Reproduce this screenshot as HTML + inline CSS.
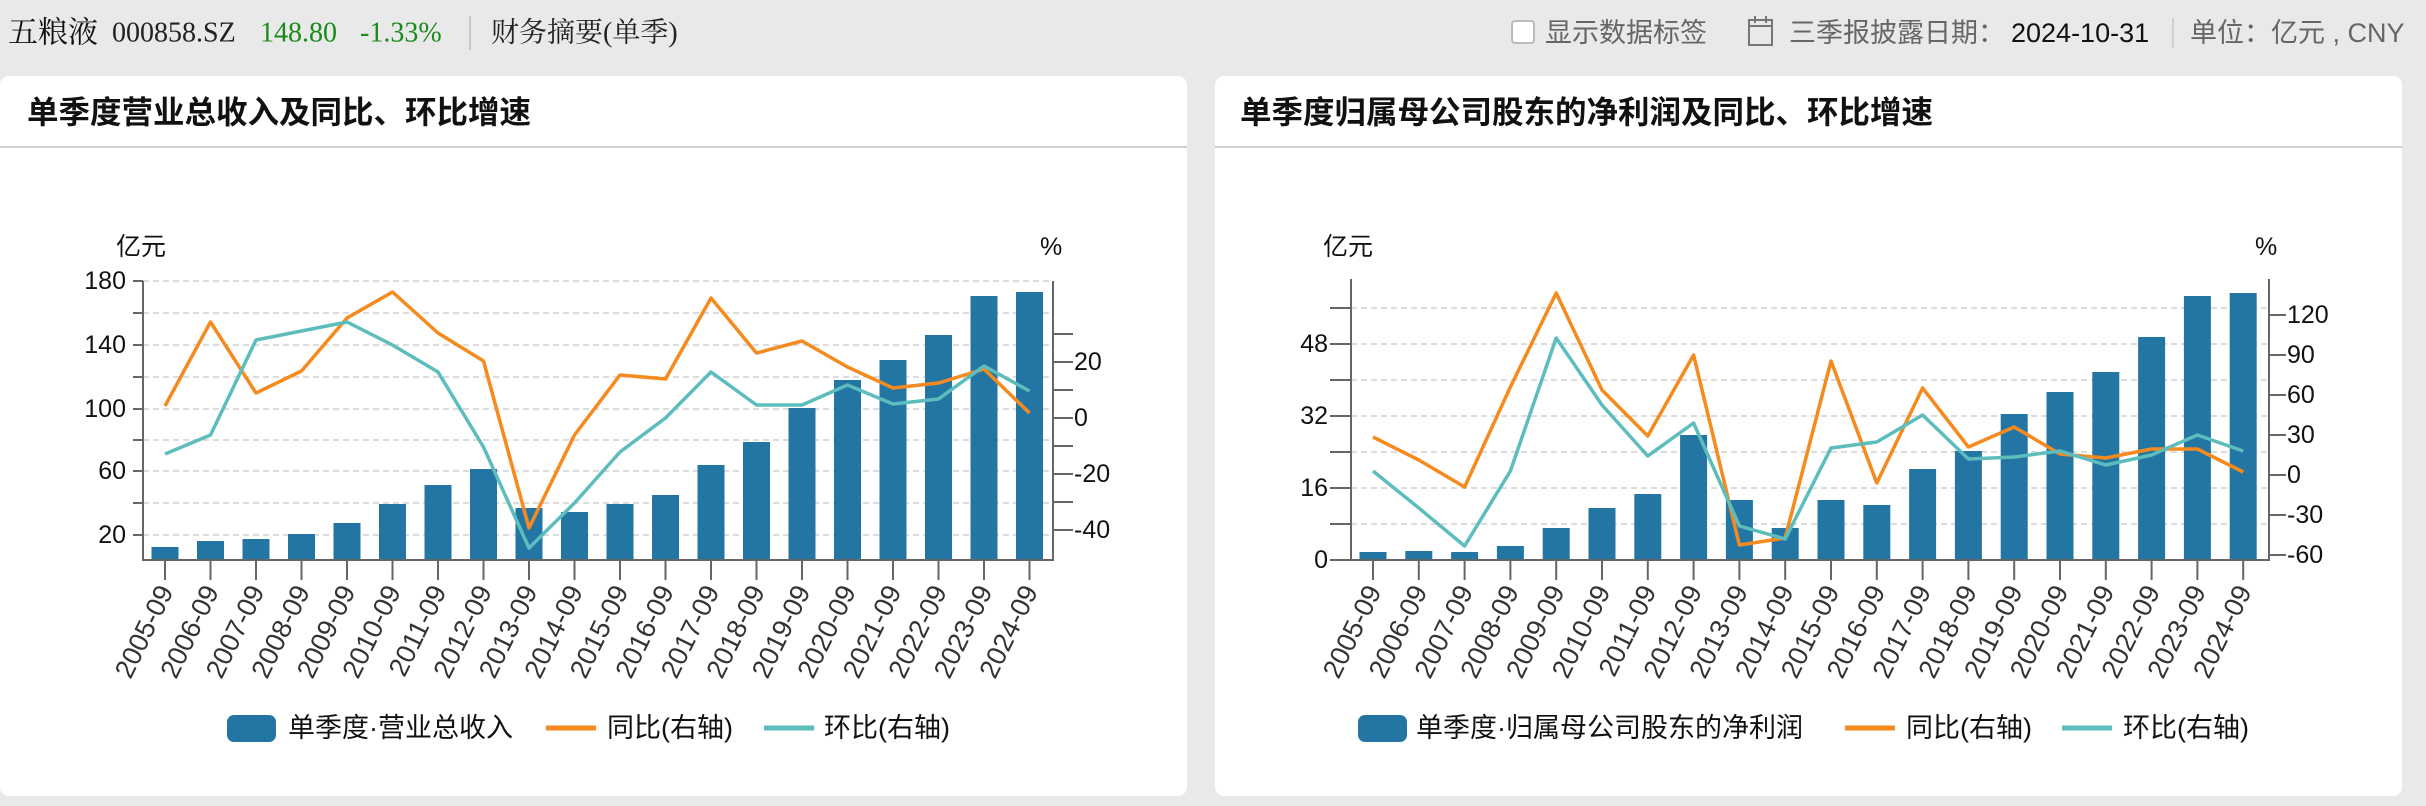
<!DOCTYPE html>
<html><head><meta charset="utf-8"><style>
html,body{margin:0;padding:0;background:#e9e9e9;}
svg{display:block;font-family:"Liberation Sans","Noto Sans CJK SC",sans-serif;}
</style></head><body>
<svg width="2426" height="806" viewBox="0 0 2426 806" xmlns="http://www.w3.org/2000/svg">
<rect width="2426" height="806" fill="#e9e9e9"/>
<g font-family="'Liberation Serif','Noto Serif CJK SC',serif" font-size="28" dominant-baseline="central">
<text x="8" y="33" fill="#111" font-size="30">五粮液</text>
<text x="112" y="33" fill="#222">000858.SZ</text>
<text x="260" y="33" fill="#1a8a1a">148.80</text>
<text x="360" y="33" fill="#1a8a1a">-1.33%</text>
<text x="491" y="33" fill="#222">财务摘要(单季)</text>
</g>
<line x1="470" y1="16" x2="470" y2="50" stroke="#c8c8c8" stroke-width="2"/>
<rect x="1512" y="21" width="22" height="22" rx="3" fill="#fff" stroke="#bbb" stroke-width="2"/>
<g font-size="27" dominant-baseline="central" fill="#666">
<text x="1545" y="33">显示数据标签</text>
<text x="1789" y="33">三季报披露日期：</text>
<text x="2011" y="33" fill="#111">2024-10-31</text>
<text x="2190" y="33">单位：亿元 , CNY</text>
</g>
<rect x="1749" y="20" width="23" height="25" fill="none" stroke="#777" stroke-width="2"/>
<line x1="1749" y1="26" x2="1772" y2="26" stroke="#777" stroke-width="2"/>
<line x1="1755" y1="16" x2="1755" y2="23" stroke="#777" stroke-width="2"/>
<line x1="1766" y1="16" x2="1766" y2="23" stroke="#777" stroke-width="2"/>
<line x1="2173" y1="18" x2="2173" y2="48" stroke="#d0d0d0" stroke-width="2"/>

<rect x="0" y="76" width="1187" height="720" rx="9" fill="#fff"/>
<rect x="1215" y="76" width="1187" height="720" rx="9" fill="#fff"/>
<line x1="0" y1="147" x2="1187" y2="147" stroke="#cfcfcf" stroke-width="2"/>
<line x1="1215" y1="147" x2="2402" y2="147" stroke="#cfcfcf" stroke-width="2"/>
<text x="27" y="112" font-size="31.5" font-weight="bold" fill="#111" dominant-baseline="central">单季度营业总收入及同比、环比增速</text>
<text x="1240" y="112" font-size="31.5" font-weight="bold" fill="#111" dominant-baseline="central">单季度归属母公司股东的净利润及同比、环比增速</text>

<!-- ===== Chart 1 ===== -->
<g stroke="#dcdcdc" stroke-width="2" stroke-dasharray="6,4">
<line x1="143" y1="281" x2="1053" y2="281"/><line x1="143" y1="313" x2="1053" y2="313"/>
<line x1="143" y1="345" x2="1053" y2="345"/><line x1="143" y1="377" x2="1053" y2="377"/>
<line x1="143" y1="409" x2="1053" y2="409"/><line x1="143" y1="440" x2="1053" y2="440"/>
<line x1="143" y1="471" x2="1053" y2="471"/><line x1="143" y1="503" x2="1053" y2="503"/>
<line x1="143" y1="535" x2="1053" y2="535"/>
</g>
<g fill="#2376a3">
<rect x="151.5" y="547" width="27" height="13"/><rect x="197" y="541" width="27" height="19"/>
<rect x="242.5" y="539" width="27" height="21"/><rect x="288" y="534" width="27" height="26"/>
<rect x="333.5" y="523" width="27" height="37"/><rect x="379" y="504" width="27" height="56"/>
<rect x="424.5" y="485" width="27" height="75"/><rect x="470" y="469" width="27" height="91"/>
<rect x="515.5" y="508" width="27" height="52"/><rect x="561" y="512" width="27" height="48"/>
<rect x="606.5" y="504" width="27" height="56"/><rect x="652" y="495" width="27" height="65"/>
<rect x="697.5" y="465" width="27" height="95"/><rect x="743" y="442" width="27" height="118"/>
<rect x="788.5" y="408" width="27" height="152"/><rect x="834" y="380" width="27" height="180"/>
<rect x="879.5" y="360" width="27" height="200"/><rect x="925" y="335" width="27" height="225"/>
<rect x="970.5" y="296" width="27" height="264"/><rect x="1016" y="292" width="27" height="268"/>
</g>
<polyline fill="none" stroke="#f58a1f" stroke-width="3.5" stroke-linejoin="round" points="165,406 210.5,322 256,393 301.5,371 347,318 392.5,292 438,333 483.5,361 529,528 574.5,435 620,375 665.5,379 711,298 756.5,353 802,341 847.5,367 893,388 938.5,383 984,369 1029.5,413"/>
<polyline fill="none" stroke="#5dbdbd" stroke-width="3.5" stroke-linejoin="round" points="165,454 210.5,435 256,340 301.5,331 347,322 392.5,345 438,372 483.5,447 529,548 574.5,503 620,452 665.5,418 711,372 756.5,405 802,405 847.5,385 893,404 938.5,399 984,366 1029.5,391"/>
<g stroke="#666" stroke-width="2" fill="none">
<line x1="143" y1="281" x2="143" y2="561"/><line x1="1053" y1="281" x2="1053" y2="561"/>
<line x1="142" y1="560" x2="1054" y2="560"/>
<path d="M133 281H143M133 313H143M133 345H143M133 377H143M133 409H143M133 440H143M133 471H143M133 503H143M133 535H143"/>
<path d="M1053 334H1073M1053 362H1073M1053 390H1073M1053 418H1073M1053 446H1073M1053 474H1073M1053 502H1073M1053 530H1073"/>
<path d="M165 560V580M210.5 560V580M256 560V580M301.5 560V580M347 560V580M392.5 560V580M438 560V580M483.5 560V580M529 560V580M574.5 560V580M620 560V580M665.5 560V580M711 560V580M756.5 560V580M802 560V580M847.5 560V580M893 560V580M938.5 560V580M984 560V580M1029.5 560V580"/>
</g>
<g font-size="25" fill="#111" dominant-baseline="central">
<text x="126" y="281" text-anchor="end">180</text><text x="126" y="345" text-anchor="end">140</text>
<text x="126" y="409" text-anchor="end">100</text><text x="126" y="471" text-anchor="end">60</text>
<text x="126" y="535" text-anchor="end">20</text>
<text x="1074" y="362">20</text><text x="1074" y="418">0</text>
<text x="1074" y="474">-20</text><text x="1074" y="530">-40</text>
<text x="116" y="247">亿元</text><text x="1040" y="247">%</text>
</g>
<g font-size="27" fill="#333" text-anchor="end">
<text transform="translate(174,591) rotate(-64)">2005-09</text><text transform="translate(219.5,591) rotate(-64)">2006-09</text>
<text transform="translate(265,591) rotate(-64)">2007-09</text><text transform="translate(310.5,591) rotate(-64)">2008-09</text>
<text transform="translate(356,591) rotate(-64)">2009-09</text><text transform="translate(401.5,591) rotate(-64)">2010-09</text>
<text transform="translate(447,591) rotate(-64)">2011-09</text><text transform="translate(492.5,591) rotate(-64)">2012-09</text>
<text transform="translate(538,591) rotate(-64)">2013-09</text><text transform="translate(583.5,591) rotate(-64)">2014-09</text>
<text transform="translate(629,591) rotate(-64)">2015-09</text><text transform="translate(674.5,591) rotate(-64)">2016-09</text>
<text transform="translate(720,591) rotate(-64)">2017-09</text><text transform="translate(765.5,591) rotate(-64)">2018-09</text>
<text transform="translate(811,591) rotate(-64)">2019-09</text><text transform="translate(856.5,591) rotate(-64)">2020-09</text>
<text transform="translate(902,591) rotate(-64)">2021-09</text><text transform="translate(947.5,591) rotate(-64)">2022-09</text>
<text transform="translate(993,591) rotate(-64)">2023-09</text><text transform="translate(1038.5,591) rotate(-64)">2024-09</text>
</g>
<rect x="227" y="715" width="49" height="27" rx="7" fill="#2376a3"/>
<line x1="546" y1="728" x2="596" y2="728" stroke="#f58a1f" stroke-width="5"/>
<line x1="764" y1="728" x2="814" y2="728" stroke="#5dbdbd" stroke-width="5"/>
<g font-size="27" fill="#111" dominant-baseline="central">
<text x="288" y="728">单季度·营业总收入</text><text x="607" y="728">同比(右轴)</text><text x="824" y="728">环比(右轴)</text>
</g>

<!-- ===== Chart 2 ===== -->
<g stroke="#dcdcdc" stroke-width="2" stroke-dasharray="6,4">
<line x1="1351" y1="308" x2="2269" y2="308"/><line x1="1351" y1="344" x2="2269" y2="344"/>
<line x1="1351" y1="380" x2="2269" y2="380"/><line x1="1351" y1="416" x2="2269" y2="416"/>
<line x1="1351" y1="452" x2="2269" y2="452"/><line x1="1351" y1="488" x2="2269" y2="488"/>
<line x1="1351" y1="524" x2="2269" y2="524"/>
</g>
<g fill="#2376a3">
<rect x="1359.5" y="552" width="27" height="8"/><rect x="1405.3" y="551" width="27" height="9"/>
<rect x="1451.1" y="552" width="27" height="8"/><rect x="1496.9" y="546" width="27" height="14"/>
<rect x="1542.7" y="528" width="27" height="32"/><rect x="1588.5" y="508" width="27" height="52"/>
<rect x="1634.3" y="494" width="27" height="66"/><rect x="1680.1" y="435" width="27" height="125"/>
<rect x="1725.9" y="500" width="27" height="60"/><rect x="1771.7" y="528" width="27" height="32"/>
<rect x="1817.5" y="500" width="27" height="60"/><rect x="1863.3" y="505" width="27" height="55"/>
<rect x="1909.1" y="469" width="27" height="91"/><rect x="1954.9" y="451" width="27" height="109"/>
<rect x="2000.7" y="414" width="27" height="146"/><rect x="2046.5" y="392" width="27" height="168"/>
<rect x="2092.3" y="372" width="27" height="188"/><rect x="2138.1" y="337" width="27" height="223"/>
<rect x="2183.9" y="296" width="27" height="264"/><rect x="2229.7" y="293" width="27" height="267"/>
</g>
<polyline fill="none" stroke="#f58a1f" stroke-width="3.5" stroke-linejoin="round" points="1373,437 1418.8,460 1464.6,487 1510.4,387 1556.2,293 1602,390 1647.8,436 1693.6,355 1739.4,545 1785.2,538 1831,361 1876.8,483 1922.6,388 1968.4,447 2014.2,427 2060,454 2105.8,458 2151.6,449 2197.4,449 2243.2,472"/>
<polyline fill="none" stroke="#5dbdbd" stroke-width="3.5" stroke-linejoin="round" points="1373,471 1418.8,508 1464.6,546 1510.4,471 1556.2,338 1602,405 1647.8,456 1693.6,423 1739.4,526 1785.2,539 1831,448 1876.8,442 1922.6,415 1968.4,459 2014.2,457 2060,451 2105.8,465 2151.6,455 2197.4,435 2243.2,451"/>
<g stroke="#666" stroke-width="2" fill="none">
<line x1="1351" y1="279" x2="1351" y2="561"/><line x1="2269" y1="279" x2="2269" y2="561"/>
<line x1="1350" y1="560" x2="2270" y2="560"/>
<path d="M1330 308H1351M1330 344H1351M1330 380H1351M1330 416H1351M1330 452H1351M1330 488H1351M1330 524H1351M1330 560H1351"/>
<path d="M2269 315H2286M2269 355H2286M2269 395H2286M2269 435H2286M2269 475H2286M2269 515H2286M2269 555H2286"/>
<path d="M1373 560V580M1418.8 560V580M1464.6 560V580M1510.4 560V580M1556.2 560V580M1602 560V580M1647.8 560V580M1693.6 560V580M1739.4 560V580M1785.2 560V580M1831 560V580M1876.8 560V580M1922.6 560V580M1968.4 560V580M2014.2 560V580M2060 560V580M2105.8 560V580M2151.6 560V580M2197.4 560V580M2243.2 560V580"/>
</g>
<g font-size="25" fill="#111" dominant-baseline="central">
<text x="1328" y="344" text-anchor="end">48</text><text x="1328" y="416" text-anchor="end">32</text>
<text x="1328" y="488" text-anchor="end">16</text><text x="1328" y="560" text-anchor="end">0</text>
<text x="2287" y="315">120</text><text x="2287" y="355">90</text><text x="2287" y="395">60</text>
<text x="2287" y="435">30</text><text x="2287" y="475">0</text><text x="2287" y="515">-30</text><text x="2287" y="555">-60</text>
<text x="1323" y="247">亿元</text><text x="2255" y="247">%</text>
</g>
<g font-size="27" fill="#333" text-anchor="end">
<text transform="translate(1382,591) rotate(-64)">2005-09</text><text transform="translate(1427.8,591) rotate(-64)">2006-09</text>
<text transform="translate(1473.6,591) rotate(-64)">2007-09</text><text transform="translate(1519.4,591) rotate(-64)">2008-09</text>
<text transform="translate(1565.2,591) rotate(-64)">2009-09</text><text transform="translate(1611,591) rotate(-64)">2010-09</text>
<text transform="translate(1656.8,591) rotate(-64)">2011-09</text><text transform="translate(1702.6,591) rotate(-64)">2012-09</text>
<text transform="translate(1748.4,591) rotate(-64)">2013-09</text><text transform="translate(1794.2,591) rotate(-64)">2014-09</text>
<text transform="translate(1840,591) rotate(-64)">2015-09</text><text transform="translate(1885.8,591) rotate(-64)">2016-09</text>
<text transform="translate(1931.6,591) rotate(-64)">2017-09</text><text transform="translate(1977.4,591) rotate(-64)">2018-09</text>
<text transform="translate(2023.2,591) rotate(-64)">2019-09</text><text transform="translate(2069,591) rotate(-64)">2020-09</text>
<text transform="translate(2114.8,591) rotate(-64)">2021-09</text><text transform="translate(2160.6,591) rotate(-64)">2022-09</text>
<text transform="translate(2206.4,591) rotate(-64)">2023-09</text><text transform="translate(2252.2,591) rotate(-64)">2024-09</text>
</g>
<rect x="1358" y="715" width="49" height="27" rx="7" fill="#2376a3"/>
<line x1="1845" y1="728" x2="1895" y2="728" stroke="#f58a1f" stroke-width="5"/>
<line x1="2062" y1="728" x2="2112" y2="728" stroke="#5dbdbd" stroke-width="5"/>
<g font-size="27" fill="#111" dominant-baseline="central">
<text x="1416" y="728">单季度·归属母公司股东的净利润</text><text x="1906" y="728">同比(右轴)</text><text x="2123" y="728">环比(右轴)</text>
</g>
</svg>
</body></html>
